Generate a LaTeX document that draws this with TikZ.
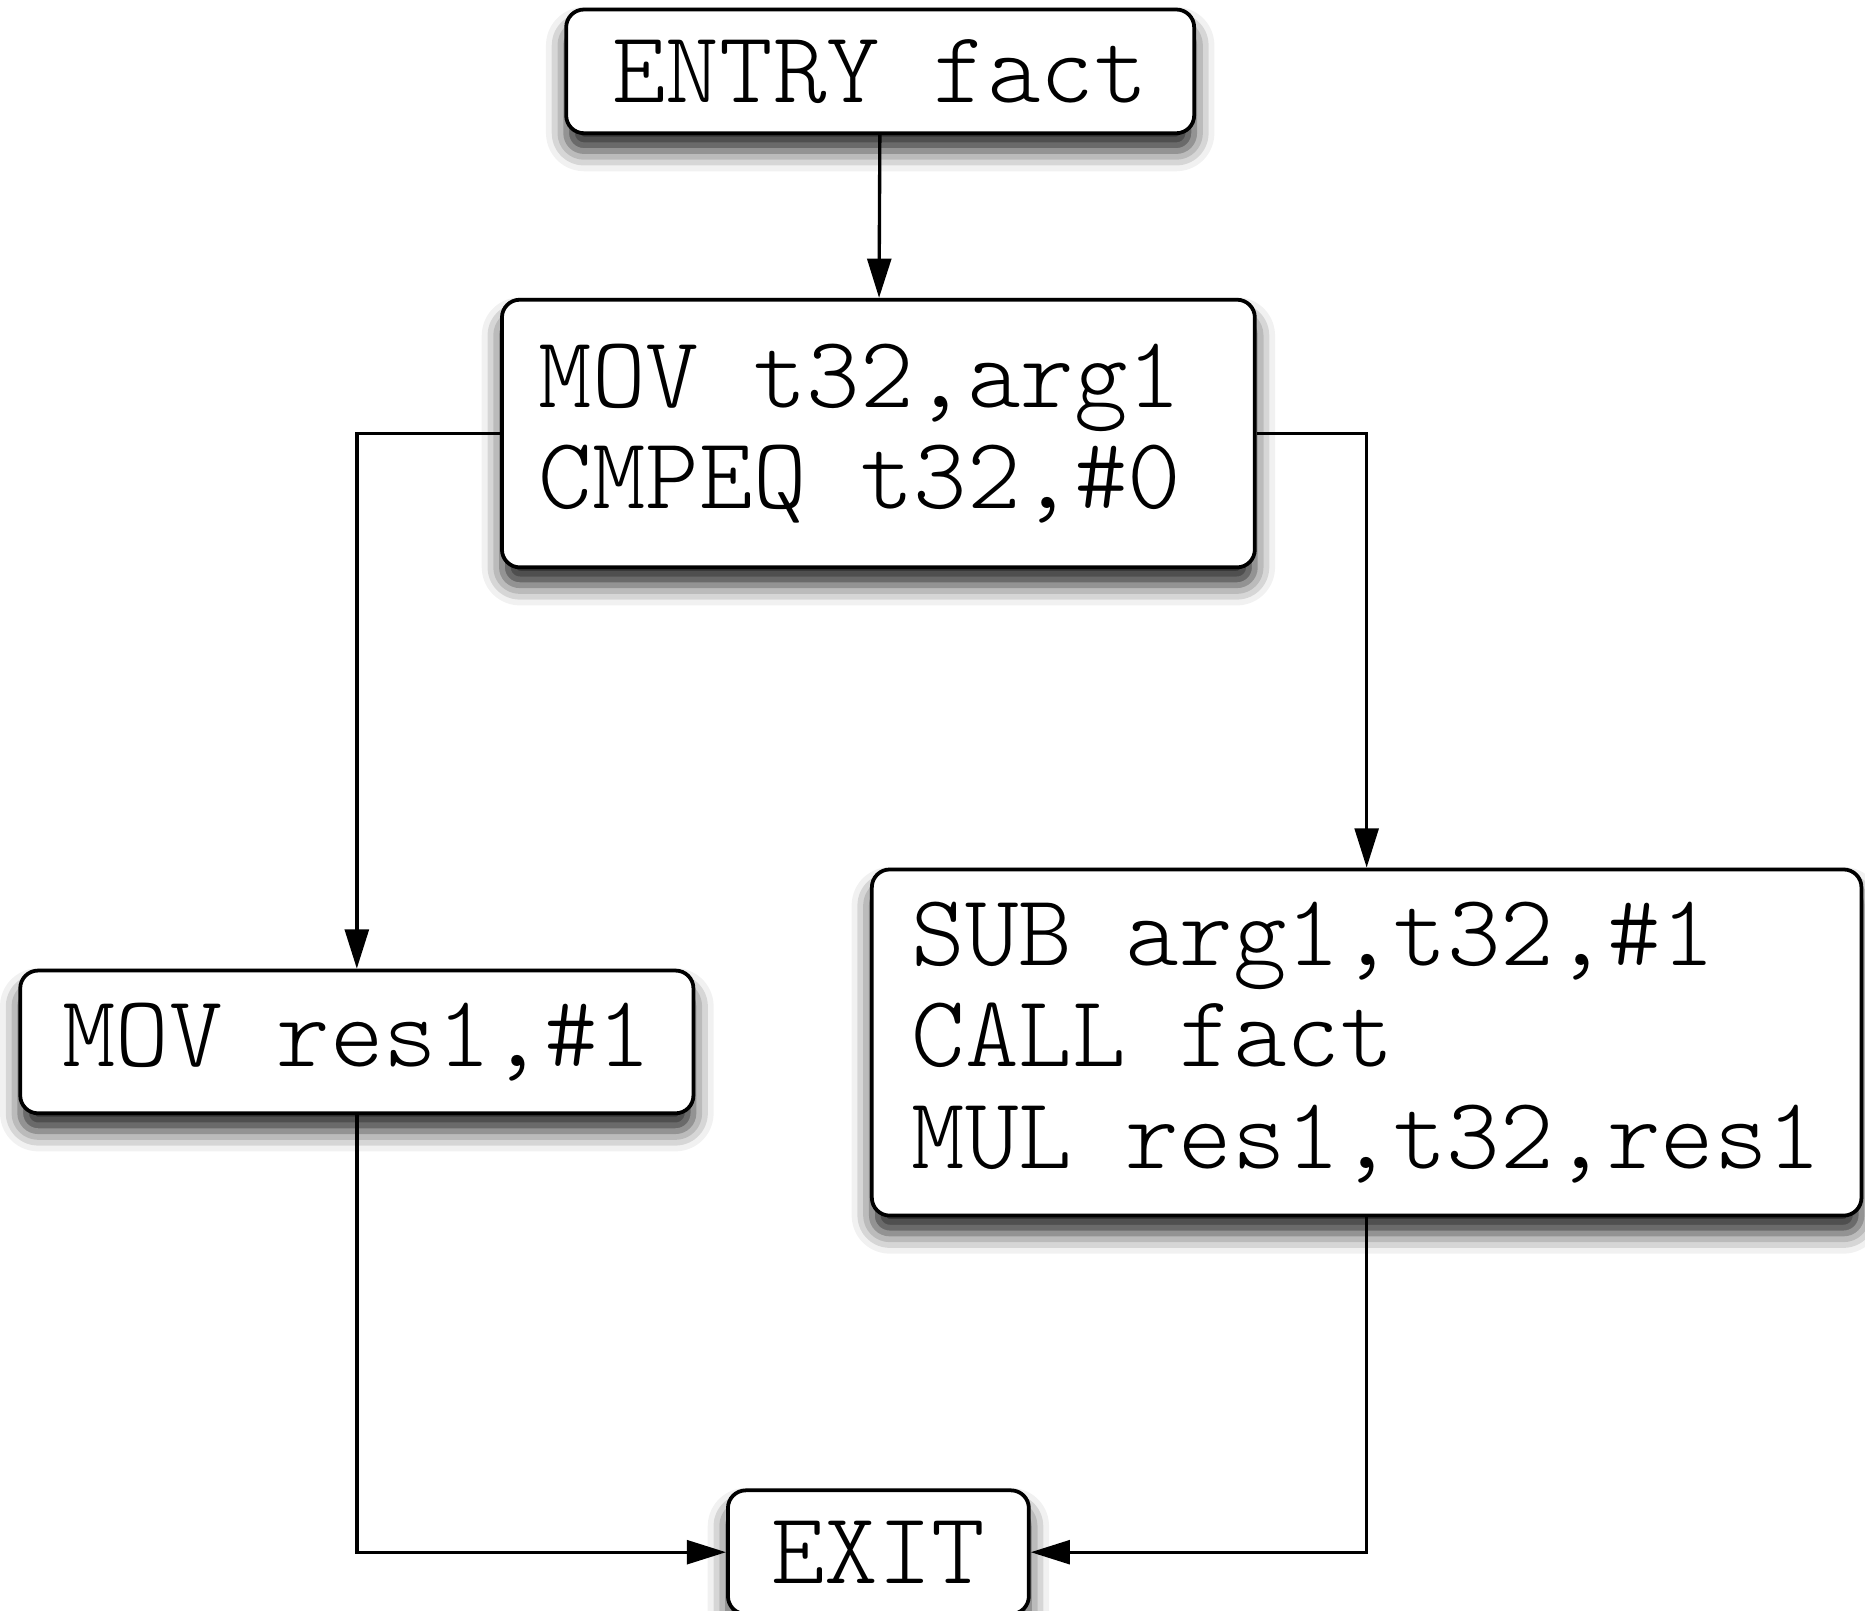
\documentclass[tikz,border=0pt]{standalone}
\usepackage{fontspec}
\newfontfamily\codefont{lmmonolt10-regular.otf}
\newcommand\codesize{\codefont\fontsize{24.4}{24.2}\selectfont}
\usepackage{tikz}
\usetikzlibrary{arrows.meta,positioning,shadows.blur}
\tikzset{
block/.style = {draw, fill=white, rectangle, rounded corners=0.15cm, line width=0.9pt,
  inner xsep=0.33cm, inner ysep=0pt, font=\codesize,
  blur shadow={shadow xshift=0pt, shadow yshift=-0.15cm, shadow blur radius=0.17cm, shadow opacity=85}},
code/.style = {block, align=flush left},
line/.style = {line width=0.8pt}
}

\begin{document}
\begin{tikzpicture}[>={Triangle[length=0.33cm,width=0.2cm]}]
  \useasboundingbox (0,0) rectangle (15.68,-13.54);
  \node [block, minimum width=5.28cm, minimum height=1.04cm]  (entry) at (7.40,-0.60)   {ENTRY fact};
  \node [code, text width=5.71cm, inner xsep=0.31cm, minimum height=2.25cm] (test) at (7.385,-3.645)
        {MOV t32,arg1\\CMPEQ t32,\#0};
  \node [block, minimum width=5.66cm, minimum height=1.20cm]  (base)  at (3.00,-8.76)   {MOV res1,\#1};
  \node [code, text width=7.65cm, inner xsep=0.335cm, minimum height=2.91cm] (rec) at (11.49,-8.765)
        {SUB arg1,t32,\#1\\CALL fact\\MUL res1,t32,res1};
  \node [block, minimum width=2.53cm, minimum height=1.04cm]  (exit)  at (7.385,-13.05) {EXIT};

  \draw [line, ->] (entry) -- (test);
  \draw [line, ->] (test.west) -| (base.north);
  \draw [line, ->] (test.east) -| (rec.north);
  \draw [line, ->] (base.south) |- (exit.west);
  \draw [line, ->] (rec.south) |- (exit.east);
\end{tikzpicture}
\end{document}
